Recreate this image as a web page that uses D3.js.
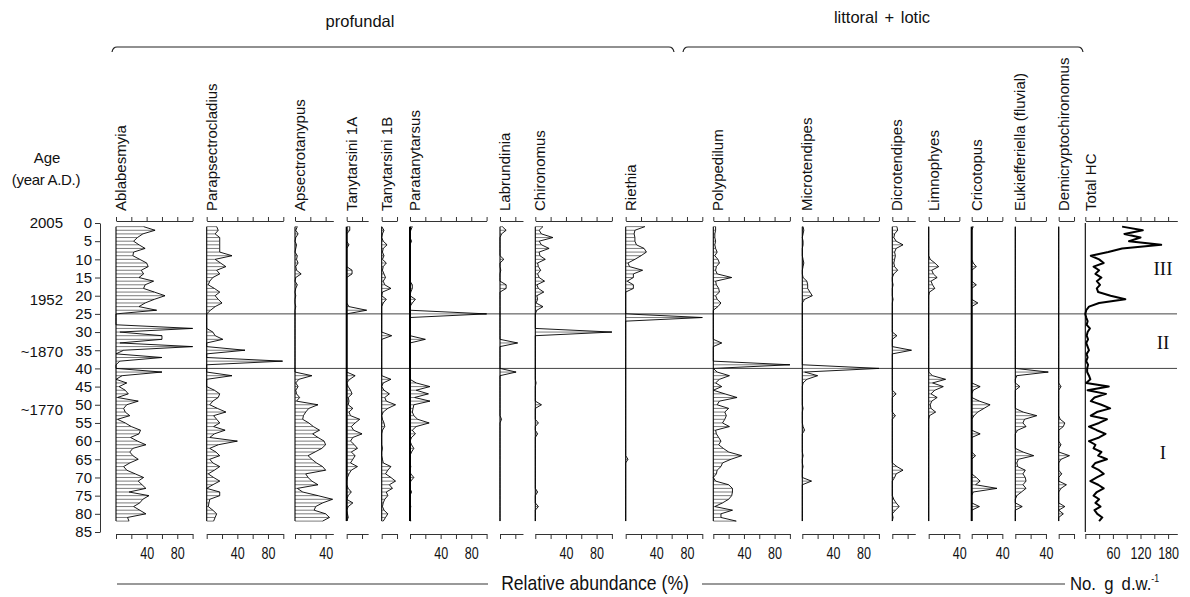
<!DOCTYPE html>
<html><head><meta charset="utf-8">
<script src="https://cdn.jsdelivr.net/npm/d3@7"></script>
<style>
body{margin:0;background:#fff}
text{fill:#111}
</style>
</head><body>
<svg id="chart" width="1190" height="597"></svg>
<script>
// ---------------- DATA ----------------
const depths = [1,2,3,4,5,6,7,8,9,10,11,12,13,14,15,16,17,18,19,20,21,22,23,24,25,26,27,28,29,30,31,32,33,34,35,36,37,38,39,40,41,42,43,44,45,46,47,48,49,50,51,52,53,54,55,56,57,58,59,60,61,62,63,64,65,66,67,68,69,70,71,72,73,74,75,76,77,78,79,80,81,82];

const taxa = ["Ablabesmyia","Parapsectrocladius","Apsectrotanypus","Tanytarsini 1A","Tanytarsini 1B","Paratanytarsus","Labrundinia","Chironomus","Riethia","Polypedilum","Microtendipes","Dicrotendipes","Limnophyes","Cricotopus","Eukiefferiella (fluvial)","Demicryptochironomus"];
const axisMax = [100,100,50,28,20,100,30,100,100,100,100,30,40,40,40,20];

const ablabesmyia = [36,51,35,28,23,30,38,23,22,31, 40,42,33,36,30,49,38,36,50,64, 50,38,30,53,0,0,0,0,100,5, 60,60,5,100,10,0,60,5,0,0, 60,8,0,14,4,12,16,2,29,14, 10,12,18,2,12,20,32,30,19,28, 39,22,18,22,29,18,10,14,25,36, 29,34,39,17,43,35,31,23,31,39, 15,17];
const parapsectrocladius = [13,15,11,17,17,17,17,17,33,11, 18,25,13,17,8,4,2,10,17,11, 15,20,11,5,0,0,0,0,0,8, 11,21,0,0,50,0,0,99,0,0, 0,33,0,0,0,10,17,15,8,4, 14,25,9,13,17,9,24,10,4,40, 15,4,12,17,4,8,17,10,2,9, 17,8,0,17,17,4,3,2,8,13, 11,9];
const apsectrotanypus = [3,1,4,1,0,2,1,0,3,2, 4,1,2,8,1,0,3,1,0,1, 0,0,1,0,0,0,0,0,0,0, 0,0,0,0,0,0,0,0,0,0, 0,22,5,1,4,1,2,6,2,30, 18,14,11,10,18,24,32,23,30,38, 40,35,26,17,22,28,36,40,14,17, 22,30,3,10,30,49,36,27,25,40, 45,36];
const tanytarsini1A = [4,4,0,0,0,3,0,0,0,0, 0,0,7,7,0,0,0,0,0,0, 0,0,3,26,0,0,0,0,0,0, 0,0,0,0,0,0,0,0,0,0, 0,11,4,0,2,5,7,2,3,2, 8,3,5,17,11,6,9,20,8,5, 10,14,6,11,8,5,14,6,3,1, 0,0,2,6,2,0,8,2,0,1, 2,0];
const tanytarsini1B = [0,3,1,0,2,7,2,1,3,1, 6,2,1,3,5,2,4,12,1,0, 6,2,0,0,0,0,0,0,0,0, 13,0,0,0,0,0,0,0,0,0, 0,0,12,2,0,3,10,4,6,18, 8,2,0,1,3,4,1,0,0,0, 0,1,0,0,1,2,12,8,5,12, 18,10,14,6,8,4,2,1,3,8, 5,2];
const paratanytarsus = [3,1,0,0,2,0,0,0,0,0, 0,0,0,0,0,0,3,3,1,0, 7,3,0,0,100,0,0,0,0,0, 0,20,0,0,0,0,0,0,0,0, 0,0,0,8,26,8,24,6,26,5, 4,3,5,10,25,8,3,7,2,0, 2,5,2,0,0,0,1,0,1,5, 1,0,0,2,0,0,0,1,0,0, 0,1];
const labrundinia = [3,8,2,0,0,0,0,0,0,5, 0,0,1,0,0,0,8,8,0,0, 0,0,0,0,0,0,0,0,0,0, 0,0,23,0,0,0,0,0,0,0, 21,0,0,0,0,0,0,0,0,0, 0,0,0,2,0,0,0,0,0,0, 0,0,0,0,0,0,0,0,0,0, 0,0,0,0,0,0,0,0,0,0, 0,0];
const chironomus = [10,5,8,23,5,8,18,5,6,13, 3,4,7,3,5,12,2,4,11,2, 3,1,10,2,0,0,0,0,0,100, 0,0,0,0,0,0,0,0,0,0, 0,0,0,1,0,0,0,0,0,8, 0,0,0,0,4,0,0,3,0,0, 0,0,0,0,0,0,0,0,0,0, 0,0,0,3,0,0,0,4,0,0, 0,0];
const riethia = [25,12,11,12,12,14,24,27,20,12, 3,5,22,10,10,2,10,10,0,0, 0,0,0,0,0,100,0,0,0,0, 0,0,0,0,0,0,0,0,0,0, 0,0,0,0,0,0,0,0,0,0, 0,0,0,0,0,0,0,0,0,0, 0,0,0,0,3,0,0,0,0,0, 0,0,0,0,0,0,0,0,0,0, 0,0];
const polypedilum = [3,3,2,2,3,2,3,5,2,6, 8,4,3,5,24,3,4,7,8,3, 5,10,6,0,0,0,0,0,0,0, 0,0,11,0,0,0,0,0,100,0, 5,21,8,3,11,0,15,31,8,5, 20,15,17,15,12,21,3,4,7,10, 7,13,20,37,23,12,10,5,4,0, 3,20,25,25,24,20,12,2,25,10, 10,30];
const microtendipes = [1,2,1,0,1,1,0,0,0,1, 2,1,0,0,1,6,7,7,10,13, 3,0,0,0,0,0,0,0,0,0, 0,0,0,0,0,0,0,0,0,100, 3,20,6,1,0,0,0,0,0,0, 1,0,0,0,0,1,3,0,0,0, 0,0,0,1,0,0,1,0,0,0, 12,0,0,0,0,0,0,0,0,0, 0,0];
const dicrotendipes = [6,7,3,2,5,14,5,3,4,3, 2,3,7,2,0,0,1,0,0,0, 1,0,0,0,0,0,0,0,0,0, 6,0,0,0,25,0,0,0,0,0, 0,0,0,0,0,0,5,0,0,0, 0,0,4,0,0,0,0,0,0,0, 0,0,0,0,0,0,6,14,5,3, 0,0,0,0,0,2,5,9,4,0, 1,0];
const limnophyes = [0,0,0,0,0,0,0,0,0,2, 8,13,4,6,11,3,5,8,1,0, 0,0,0,0,0,0,0,0,0,0, 0,0,0,0,0,0,0,0,0,0, 0,5,22,5,19,8,3,11,4,2, 3,9,1,0,0,0,0,0,0,0, 0,0,0,0,0,0,0,0,0,0, 0,0,0,0,0,0,0,0,0,0, 0,0];
const cricotopus = [2,0,0,0,0,0,0,0,0,0, 2,6,0,0,0,0,6,0,0,0, 0,8,0,0,0,0,0,0,0,0, 0,0,0,0,0,0,0,0,0,0, 0,0,0,0,11,2,0,0,10,24, 16,8,3,0,0,0,0,11,0,0, 0,0,0,5,0,0,0,0,0,6, 11,5,33,2,0,0,0,10,0,0, 0,0];
const eukiefferiella = [0,0,0,0,0,0,0,0,0,0, 0,0,0,0,0,0,0,0,0,0, 0,0,0,0,0,0,0,0,0,0, 0,0,0,0,0,0,0,0,0,0, 43,2,0,0,6,0,0,0,0,0, 0,10,28,12,10,14,3,0,0,0, 0,0,10,24,4,2,3,13,10,13, 14,10,14,8,2,0,0,9,0,0, 0,0];
const demicryptochironomus = [0,0,0,0,0,0,0,0,0,0, 0,0,0,0,0,0,0,0,0,0, 0,0,0,0,0,0,0,0,0,0, 0,0,0,0,0,0,0,0,0,0, 0,0,0,0,3,0,0,0,0,0, 0,0,0,2,8,6,0,0,0,0, 3,0,0,14,3,0,0,0,4,0, 0,10,3,0,0,0,0,8,0,6, 0,0];
const totalHC = [80,125,85,120,95,165,80,50,12,30, 40,18,30,22,35,25,32,25,28,55, 87,30,8,2,0,2,5,3,10,5, 3,6,2,5,8,3,5,2,6,4, 4,8,11,2,51,5,45,20,12,35, 54,25,12,47,30,8,25,44,30,8, 22,18,35,28,47,22,15,30,40,25, 11,28,40,25,18,30,22,33,20,26, 37,30];

const pctTicks = [0,20,40,60,80,100];
const pctLabels = [40,80];
const hcTicks = [0,30,60,90,120,150,180];
const hcLabels = [60,120,180];
const hcMax = 200;
const depthTicks = [0,5,10,15,20,25,30,35,40,45,50,55,60,65,70,75,80,85];
const ageDepths = [0,21,35.5,51.5];
const ageLabels = ["2005","1952","~1870","~1770"];
const zoneBounds = [25,40];
const zoneNames = ["III","II","I"];
const zoneLabelDepths = [12.4,32.7,63];
const groupNames = ["profundal","littoral + lotic"];

const seriesList = [ablabesmyia,parapsectrocladius,apsectrotanypus,tanytarsini1A,tanytarsini1B,paratanytarsus,labrundinia,chironomus,riethia,polypedilum,microtendipes,dicrotendipes,limnophyes,cricotopus,eukiefferiella,demicryptochironomus];

// ---------------- LAYOUT ----------------
const panelLeft = [116,206.7,295,346.7,381.7,410,500,535.3,625.7,713.3,802.3,892.3,928.7,971.7,1015.3,1058.7];
const thickBase = [false,false,false,true,false,true,false,false,false,false,false,false,false,true,false,false];
const pxPerPct = 0.766;
const hcLeft = 1085.3, hcPx = 0.46;
const topAxisY = 221, botAxisY = 534;
const sans = "'Liberation Sans', Arial, sans-serif";

const svg = d3.select("#chart");
const y = d3.scaleLinear().domain([0,85]).range([223,532]);

// zone boundary lines (behind)
svg.append("g").selectAll("line").data(zoneBounds).join("line")
  .attr("x1",116).attr("x2",1177).attr("y1",d=>y(d)).attr("y2",d=>y(d))
  .attr("stroke","#444").attr("stroke-width",1);

function styleAxis(g){
  g.select(".domain").attr("stroke","#333").attr("stroke-width",1);
  g.selectAll(".tick line").attr("stroke","#333");
  g.selectAll(".tick text").attr("font-family",sans).attr("font-size",16.5).attr("fill","#111")
    .attr("transform","scale(0.76,1)");
}

seriesList.forEach((vals,i)=>{
  const left = panelLeft[i];
  const x = d3.scaleLinear().domain([0,axisMax[i]]).range([left,left+axisMax[i]*pxPerPct]);
  const data = depths.map((d,j)=>({d:d,v:vals[j]}));
  const g = svg.append("g");
  g.append("path").datum(data)
    .attr("d", d3.area().y(p=>y(p.d)).x0(x(0)).x1(p=>x(p.v)))
    .attr("fill","#fff");
  g.selectAll("line.h").data(data.filter(p=>p.v>0)).join("line")
    .attr("x1",x(0)).attr("x2",p=>x(p.v)).attr("y1",p=>y(p.d)).attr("y2",p=>y(p.d))
    .attr("stroke","#444").attr("stroke-width",0.7);
  g.append("path").datum(data)
    .attr("d", d3.line().y(p=>y(p.d)).x(p=>x(p.v)))
    .attr("fill","none").attr("stroke","#000").attr("stroke-width",0.9);
  g.append("line").attr("x1",x(0)).attr("x2",x(0))
    .attr("y1",y(depths[0])).attr("y2",y(depths[depths.length-1]))
    .attr("stroke","#000").attr("stroke-width",thickBase[i]?2:1.1);
  const ticks = pctTicks.filter(t=>t<=axisMax[i]);
  const ta = svg.append("g").attr("transform",`translate(0,${topAxisY})`)
    .call(d3.axisTop(x).tickValues(ticks).tickSize(4).tickSizeOuter(0).tickFormat(""));
  styleAxis(ta);
  const ba = svg.append("g").attr("transform",`translate(0,${botAxisY})`)
    .call(d3.axisBottom(x).tickValues(ticks).tickSize(5).tickSizeOuter(0).tickPadding(8)
      .tickFormat(t=>pctLabels.includes(t)?t:""));
  styleAxis(ba);
  svg.append("text").attr("transform",`translate(${left+10},211) rotate(-90)`)
    .attr("font-family",sans).attr("font-size",15).text(taxa[i]);
});

// Total HC
{
  const x = d3.scaleLinear().domain([0,hcMax]).range([hcLeft,hcLeft+hcMax*hcPx]);
  const data = depths.map((d,j)=>({d:d,v:totalHC[j]}));
  svg.append("line").attr("x1",x(0)).attr("x2",x(0)).attr("y1",y(0)).attr("y2",y(85))
    .attr("stroke","#000").attr("stroke-width",1.1);
  svg.append("path").datum(data)
    .attr("d", d3.line().y(p=>y(p.d)).x(p=>x(p.v)))
    .attr("fill","none").attr("stroke","#000").attr("stroke-width",2).attr("stroke-linejoin","round");
  const ta = svg.append("g").attr("transform",`translate(0,${topAxisY})`)
    .call(d3.axisTop(x).tickValues(hcTicks).tickSize(4).tickSizeOuter(0).tickFormat(""));
  styleAxis(ta);
  const ba = svg.append("g").attr("transform",`translate(0,${botAxisY})`)
    .call(d3.axisBottom(x).tickValues(hcTicks).tickSize(5).tickSizeOuter(0).tickPadding(8)
      .tickFormat(t=>hcLabels.includes(t)?t:""));
  styleAxis(ba);
  svg.append("text").attr("transform",`translate(${hcLeft+10.5},211) rotate(-90)`)
    .attr("font-family",sans).attr("font-size",15).text("Total HC");
}

// zone labels
svg.selectAll("text.zone").data(zoneNames).join("text")
  .attr("x",1163).attr("y",(d,i)=>y(zoneLabelDepths[i])).attr("dy","0.35em")
  .attr("text-anchor","middle").attr("font-family","'Liberation Serif', 'Times New Roman', serif")
  .attr("font-size",19).text(d=>d);

// depth axis
const da = svg.append("g").attr("transform","translate(100,0)")
  .call(d3.axisLeft(y).tickValues(depthTicks).tickSize(5).tickPadding(3).tickSizeOuter(0));
da.select(".domain").attr("stroke","#333");
da.selectAll(".tick line").attr("stroke","#333");
da.selectAll(".tick text").attr("font-family",sans).attr("font-size",15).attr("fill","#111");

// age labels
svg.selectAll("text.age").data(ageLabels).join("text")
  .attr("x",63).attr("y",(d,i)=>y(ageDepths[i])).attr("dy","0.35em")
  .attr("text-anchor","end").attr("font-family",sans).attr("font-size",15).text(d=>d);
svg.append("text").attr("x",47).attr("y",163).attr("text-anchor","middle")
  .attr("font-family",sans).attr("font-size",15).text("Age");
svg.append("text").attr("x",46).attr("y",185).attr("text-anchor","middle")
  .attr("font-family",sans).attr("font-size",15).attr("letter-spacing",-0.3).text("(year A.D.)");

// group brackets
const brackets = [[113,673],[684,1082]];
brackets.forEach(([a,b])=>{
  const p = d3.path();
  p.moveTo(a-1,52); p.quadraticCurveTo(a,47,a+4,47); p.lineTo(b-4,47); p.quadraticCurveTo(b,47,b+1,52);
  svg.append("path").attr("d",p.toString()).attr("fill","none").attr("stroke","#222").attr("stroke-width",1.2);
});
svg.append("text").attr("x",360).attr("y",27).attr("text-anchor","middle")
  .attr("font-family",sans).attr("font-size",16.5).text(groupNames[0]);
svg.append("text").attr("x",882).attr("y",23).attr("text-anchor","middle")
  .attr("font-family",sans).attr("font-size",16.5).attr("word-spacing",2).text(groupNames[1]);

// bottom legend
svg.append("line").attr("x1",117).attr("x2",488).attr("y1",584).attr("y2",584).attr("stroke","#777").attr("stroke-width",1.3);
svg.append("line").attr("x1",702).attr("x2",1065).attr("y1",584).attr("y2",584).attr("stroke","#777").attr("stroke-width",1.3);
svg.append("text").attr("transform","translate(595,590) scale(0.88,1)").attr("text-anchor","middle")
  .attr("font-family",sans).attr("font-size",20).text("Relative abundance (%)");
const nt = svg.append("text").attr("transform","translate(1070,590) scale(0.88,1)")
  .attr("font-family",sans).attr("font-size",19).attr("word-spacing",4).text("No. g d.w.");
nt.append("tspan").attr("dy",-8).attr("font-size",10).text("-1");
</script>
</body></html>
